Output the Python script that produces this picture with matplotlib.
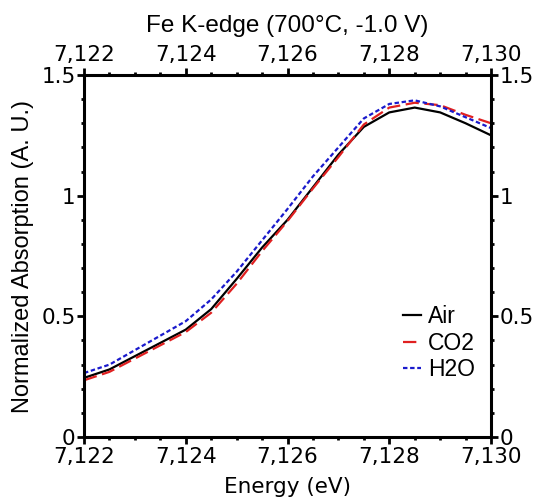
import numpy as np
import matplotlib
matplotlib.use("Agg")
import matplotlib.pyplot as plt
from matplotlib.ticker import FuncFormatter, MultipleLocator

# energies (eV) and normalized absorption
energy = [7122.0, 7122.5, 7123.0, 7123.5, 7124.0, 7124.5, 7125.0, 7125.5, 7126.0,
          7126.5, 7127.0, 7127.5, 7128.0, 7128.5, 7129.0, 7129.5, 7130.0]
air = [0.245, 0.28, 0.335, 0.39, 0.445, 0.53, 0.655, 0.785, 0.90,
       1.035, 1.17, 1.285, 1.345, 1.365, 1.345, 1.30, 1.25]
co2 = [0.235, 0.27, 0.325, 0.38, 0.435, 0.515, 0.635, 0.77, 0.895,
       1.03, 1.16, 1.295, 1.365, 1.385, 1.375, 1.335, 1.30]
h2o = [0.265, 0.30, 0.36, 0.42, 0.48, 0.57, 0.685, 0.815, 0.945,
       1.08, 1.20, 1.32, 1.38, 1.395, 1.37, 1.325, 1.28]

labels = ["Air", "CO2", "H2O"]
colors = ["black", "#e02020", "#1a1acc"]
styles = ["-", (0, (6, 2.5)), (0, (2, 1.2))]

fig = plt.figure(figsize=(5.4, 4.97), dpi=100)
ax = fig.add_axes([0.1556, 0.1207, 0.7537, 0.7284])

for y, lab, c, ls in zip([air, co2, h2o], labels, colors, styles):
    ax.plot(energy, y, color=c, linestyle=ls, lw=1.6, label=lab)

ax.set_xlim(7122, 7130)
ax.set_ylim(0, 1.5)

ax.xaxis.set_major_locator(MultipleLocator(2))
ax.xaxis.set_minor_locator(MultipleLocator(0.5))
ax.yaxis.set_major_locator(MultipleLocator(0.5))
ax.yaxis.set_minor_locator(MultipleLocator(0.1))
ax.xaxis.set_major_formatter(FuncFormatter(lambda v, p: "{:,.0f}".format(v)))
ax.yaxis.set_major_formatter(FuncFormatter(lambda v, p: "%g" % v))

ax.tick_params(which="both", direction="out", top=True, right=True,
               labeltop=True, labelright=True, width=2)
ax.tick_params(which="major", length=5, labelsize=15.5, pad=1)
ax.tick_params(axis="x", which="major", pad=2.5)
ax.tick_params(which="minor", length=2.5)
for lbl in ax.get_xticklabels() + ax.get_yticklabels():
    lbl.set_family("DejaVu Sans")
for s in ax.spines.values():
    s.set_linewidth(2.2)

ax.set_xlabel("Energy (eV)", fontsize=15.5, family="DejaVu Sans", labelpad=7)
ax.set_ylabel("Normalized Absorption (A. U.)", fontsize=17, family="Liberation Sans", labelpad=5)
ax.set_title("Fe K-edge (700°C, -1.0 V)", fontsize=17.5, family="Liberation Sans", pad=31)

ax.legend(loc="lower right", bbox_to_anchor=(1.0, 0.11), frameon=False,
          prop={"family": "Liberation Sans", "size": 16.5}, handlelength=0.8,
          handletextpad=0.3, labelspacing=0.15, borderaxespad=0.3)

fig.savefig("out.png", dpi=100)
